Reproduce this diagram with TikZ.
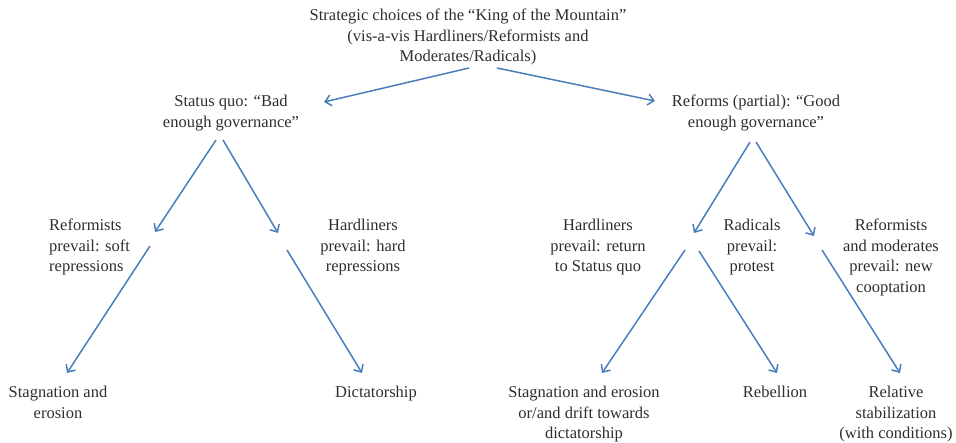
\documentclass[tikz,border=0pt]{standalone}
\usepackage{fontspec}
\setmainfont{Liberation Serif}
\usetikzlibrary{arrows.meta}

\definecolor{arrowblue}{HTML}{4A7EBB}
\definecolor{textgray}{HTML}{2E2E2E}

\begin{document}
\begin{tikzpicture}[x=1pt,y=-1pt]
    \useasboundingbox (0,0) rectangle (956,442);
    \begin{scope}[every node/.style={inner sep=0pt, anchor=north, align=center, text=textgray,
        font=\fontsize{16.5}{20.5}\selectfont}]
        \node (king) at (468,9) {Strategic choices of the ``King of the Mountain''\\(vis-a-vis Hardliners/Reformists and\\Moderates/Radicals)};
        \node (quo) at (231,95) {Status quo: ``Bad\\enough governance''};
        \node (reform) at (756,95) {Reforms (partial): ``Good\\enough governance''};
        \node[anchor=north west, align=left] (soft) at (49,219) {Reformists\\prevail: soft\\repressions};
        \node (hard) at (363,219) {Hardliners\\prevail: hard\\repressions};
        \node (back) at (598,219) {Hardliners\\prevail: return\\to Status quo};
        \node (radical) at (752,219) {Radicals\\prevail:\\protest};
        \node (coopt) at (891,219) {Reformists\\and moderates\\prevail: new\\cooptation};
        \node (stagn) at (58,386) {Stagnation and\\erosion};
        \node (dictat) at (376,386) {Dictatorship};
        \node (drift) at (584,386) {Stagnation and erosion\\or/and drift towards\\dictatorship};
        \node (rebel) at (775,386) {Rebellion};
        \node (stable) at (896,386) {Relative\\stabilization\\(with conditions)};
    \end{scope}
    % arrow ends
    \coordinate (king-l) at (469,68);
    \coordinate (king-r) at (497,68);
    \coordinate (quo-in) at (324,102);
    \coordinate (reform-in) at (655,101);
    \coordinate (quo-l) at (216,140);
    \coordinate (quo-r) at (223,140);
    \coordinate (soft-in) at (155,232);
    \coordinate (hard-in) at (278,233);
    \coordinate (soft-out) at (150,246);
    \coordinate (hard-out) at (287,250);
    \coordinate (stagn-in) at (67,373);
    \coordinate (dictat-in) at (362,373);
    \coordinate (reform-l) at (750,142);
    \coordinate (reform-r) at (756,142);
    \coordinate (back-in) at (694,233);
    \coordinate (coopt-in) at (814,236);
    \coordinate (back-l) at (685,250);
    \coordinate (back-r) at (699,251);
    \coordinate (coopt-out) at (822,250);
    \coordinate (drift-in) at (602,373);
    \coordinate (rebel-in) at (777,373);
    \coordinate (stable-in) at (900,373);
    \begin{scope}[every edge/.style={draw=arrowblue, line width=1.5pt,
        -{Straight Barb[length=6pt,width=11pt]}}]
        \draw (king-l) edge (quo-in);
        \draw (king-r) edge (reform-in);
        \draw (quo-l) edge (soft-in);
        \draw (quo-r) edge (hard-in);
        \draw (soft-out) edge (stagn-in);
        \draw (hard-out) edge (dictat-in);
        \draw (reform-l) edge (back-in);
        \draw (reform-r) edge (coopt-in);
        \draw (back-l) edge (drift-in);
        \draw (back-r) edge (rebel-in);
        \draw (coopt-out) edge (stable-in);
    \end{scope}
\end{tikzpicture}
\end{document}
